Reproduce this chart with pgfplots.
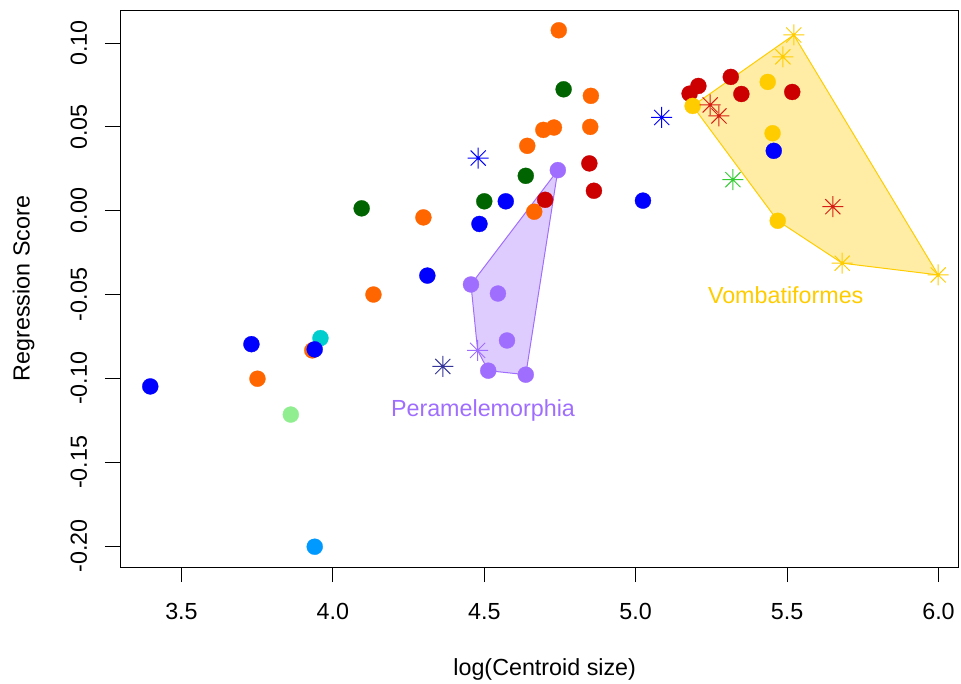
\documentclass[border=0pt]{standalone}
\usepackage{fontspec}
\setmainfont{Liberation Sans}
\usepackage{pgfplots}
\pgfplotsset{compat=1.18}
\definecolor{rorange}{RGB}{255,102,0}
\definecolor{rdgreen}{RGB}{0,100,0}
\definecolor{rblue}{RGB}{0,0,255}
\definecolor{rlgreen}{RGB}{144,238,144}
\definecolor{rcyan}{RGB}{0,205,205}
\definecolor{rsky}{RGB}{0,153,255}
\definecolor{rred}{RGB}{204,0,0}
\definecolor{rstarred}{RGB}{215,30,20}
\definecolor{rgold}{RGB}{255,204,0}
\definecolor{rpurple}{RGB}{160,110,255}
\definecolor{rnavy}{RGB}{51,51,153}
\definecolor{rgreen}{RGB}{50,205,50}
\pgfdeclareplotmark{rstar}{%
  \pgfpathmoveto{\pgfqpoint{-\pgfplotmarksize}{0pt}}\pgfpathlineto{\pgfqpoint{\pgfplotmarksize}{0pt}}%
  \pgfpathmoveto{\pgfqpoint{0pt}{-\pgfplotmarksize}}\pgfpathlineto{\pgfqpoint{0pt}{\pgfplotmarksize}}%
  \pgfpathmoveto{\pgfqpoint{-0.72\pgfplotmarksize}{-0.72\pgfplotmarksize}}\pgfpathlineto{\pgfqpoint{0.72\pgfplotmarksize}{0.72\pgfplotmarksize}}%
  \pgfpathmoveto{\pgfqpoint{-0.72\pgfplotmarksize}{0.72\pgfplotmarksize}}\pgfpathlineto{\pgfqpoint{0.72\pgfplotmarksize}{-0.72\pgfplotmarksize}}%
  \pgfusepathqstroke}
\pgfplotsset{
  dot/.style={only marks, mark=*, mark size=8bp, mark options={fill=#1, draw=#1, line width=0.3bp}},
  star/.style={only marks, mark=rstar, mark size=10.5bp, mark options={draw=#1, line width=1bp}},
}
\begin{document}
\fontsize{23.3bp}{28bp}\selectfont
\begin{tikzpicture}
\path[use as bounding box] (-120bp,-117bp) rectangle (841bp,567bp);
\begin{axis}[at={(0,0)}, anchor=south west, scale only axis,
  width=838bp, height=557bp,
  xmin=3.297, xmax=6.0644, ymin=-0.2125, ymax=0.1197,
  xtick={3.5,4,4.5,5,5.5,6}, xticklabels={3.5,4.0,4.5,5.0,5.5,6.0},
  ytick={-0.2,-0.15,-0.1,-0.05,0,0.05,0.1},
  yticklabels={-0.20,-0.15,-0.10,-0.05,0.00,0.05,0.10},
  tick align=outside, xtick pos=bottom, ytick pos=left,
  major tick length=15bp,
  tick style={black, line width=0.8bp},
  axis line style={black, line width=0.8bp},
  xticklabel style={anchor=base, yshift=-37bp, inner sep=0pt},
  yticklabel style={xshift=-18bp, rotate=90, anchor=base, inner sep=0pt},
  xlabel={log(Centroid size)}, ylabel={Regression Score},
  xlabel style={at={(axis description cs:0.5068,0)}, anchor=base, yshift=-108bp, inner sep=0pt},
  ylabel style={at={(axis description cs:-0.1078,0.5)}, anchor=base, inner sep=0pt},
]
% orange circles
\addplot[dot=rorange] coordinates {(3.751,-0.1002) (3.932,-0.0833) (4.134,-0.050) (4.299,-0.004) (4.642,0.0387) (4.695,0.0482) (4.730,0.0496) (4.850,0.050) (4.852,0.0685) (4.746,0.1076) (4.665,-0.0006)};
% dark green
\addplot[dot=rdgreen] coordinates {(4.095,0.0014) (4.500,0.0056) (4.637,0.0208) (4.762,0.0724)};
% cyan, light green, sky
\addplot[dot=rcyan] coordinates {(3.959,-0.0760)};
\addplot[dot=rlgreen] coordinates {(3.861,-0.1216)};
\addplot[dot=rsky] coordinates {(3.940,-0.2004)};
% blue circles
\addplot[dot=rblue] coordinates {(3.397,-0.1048) (3.731,-0.0796) (3.940,-0.0827) (4.312,-0.0387) (4.484,-0.0079) (4.571,0.0056) (5.024,0.006) (5.456,0.0357)};
% red circles
\addplot[dot=rred] coordinates {(4.847,0.0282) (4.862,0.0119) (4.701,0.0065) (5.178,0.0698) (5.207,0.0744) (5.314,0.0798) (5.349,0.0696) (5.517,0.0708)};
% gold circles
\addplot[dot=rgold] coordinates {(5.188,0.0625) (5.436,0.0768) (5.452,0.0462) (5.469,-0.006)};
% purple circles
\addplot[dot=rpurple] coordinates {(4.743,0.0242) (4.456,-0.044) (4.545,-0.0494) (4.575,-0.0774) (4.513,-0.0954) (4.637,-0.0978)};
% stars
\addplot[star=rblue] coordinates {(4.480,0.0314) (5.086,0.0556)};
\addplot[star=rnavy] coordinates {(4.363,-0.0929)};
\addplot[star=rpurple] coordinates {(4.478,-0.0833)};
\addplot[star=rgold] coordinates {(5.522,0.1048) (5.486,0.0918) (5.682,-0.0313) (5.999,-0.0383)};
\addplot[star=rstarred] coordinates {(5.246,0.0631) (5.275,0.0565) (5.651,0.0024)};
\addplot[star=rgreen] coordinates {(5.321,0.0185)};
% hulls
\addplot[draw=rpurple, line width=1bp, fill=rpurple, fill opacity=0.35] coordinates {(4.743,0.0242) (4.456,-0.044) (4.478,-0.0833) (4.513,-0.0954) (4.637,-0.0978)} --cycle;
\addplot[draw=rgold, line width=1bp, fill=rgold, fill opacity=0.35] coordinates {(5.188,0.0625) (5.522,0.1048) (5.999,-0.0383) (5.682,-0.0313) (5.469,-0.006)} --cycle;
\node[anchor=base, text=rpurple, inner sep=0pt] at (axis cs:4.4957,-0.1229) {Peramelemorphia};
\node[anchor=base, text=rgold, inner sep=0pt] at (axis cs:5.4954,-0.0552) {Vombatiformes};
\end{axis}
\end{tikzpicture}
\end{document}
